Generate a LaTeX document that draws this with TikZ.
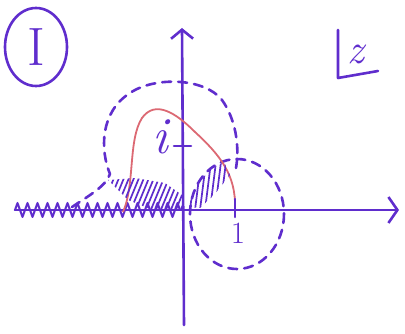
\documentclass[tikz,border=0pt]{standalone}
\usepackage{fontspec}
\usepackage{tikz}
\usetikzlibrary{arrows.meta,decorations.pathmorphing,shapes.geometric}
\definecolor{pen}{RGB}{95,45,205}
\definecolor{redpen}{RGB}{220,105,115}

\begin{document}
\begin{tikzpicture}[x=1pt,y=-1pt,
  pen/.style={draw=pen,line width=2.6pt,line cap=round,line join=round},
  dashpen/.style={pen,dash pattern=on 9pt off 7pt},
  hatchpen/.style={draw=pen,line width=1.7pt,line cap=round},
  every node/.style={text=pen,inner sep=0pt}]
  \useasboundingbox (0,0) rectangle (405,334);
  % axes
  \coordinate (xl) at (15,210);
  \coordinate (xr) at (399,210);
  \coordinate (yt) at (182,28);
  \coordinate (yb) at (184,325);
  \draw[pen,-{Straight Barb[length=9pt,width=26pt]}] (xl) -- (xr);
  \draw[pen,-{Straight Barb[length=9pt,width=22pt]}] (yb) -- (yt);
  % branch cut
  \draw[pen,line width=2pt,decorate,decoration={zigzag,segment length=10pt,amplitude=7pt}] (xl) -- (180,210);
  % dashed contours
  \draw[dashpen] (72,207) .. controls (90,195) and (106,186) .. (110,174)
    .. controls (100,150) and (100,112) .. (130,93)
    .. controls (155,76) and (205,78) .. (222,100)
    .. controls (235,118) and (240,145) .. (236,168);
  \draw[dashpen] (237,214) ellipse [x radius=47, y radius=55];
  % red curve
  \draw[draw=redpen,line width=1.8pt] (123,212) .. controls (135,185) and (128,140) .. (142,118)
    .. controls (155,100) and (175,112) .. (195,132)
    .. controls (220,155) and (236,175) .. (235,208);
  % hatching
  \begin{scope}
    \clip (108,180) -- (135,178) -- (165,183) -- (182,195) -- (182,209) -- (150,209) -- (128,200) -- cycle;
    \foreach \x in {95,100,...,190}{
      \draw[hatchpen] (\x,212) -- ++(14,-34);
    }
  \end{scope}
  \begin{scope}
    \clip (188,207) -- (196,185) -- (212,168) -- (224,162) -- (230,175) -- (214,195) -- (200,208) -- cycle;
    \foreach \x in {180,185,...,235}{
      \draw[hatchpen] (\x,210) -- ++(6,-48);
    }
  \end{scope}
  % ticks and labels
  \draw[pen] (174,146) -- (191,146);
  \draw[pen] (235,199) -- (235,217);
  \node[font=\fontsize{52}{52}\selectfont\itshape] (lbli) at (160,137) {i};
  \node[font=\fontsize{31}{31}\selectfont] (lblone) at (238,233) {1};
  \node[draw=pen,line width=2.6pt,ellipse,minimum width=62pt,minimum height=78pt,
    font=\fontsize{54}{54}\selectfont] (sheet) at (36,47) {I};
  \node[font=\fontsize{42}{42}\selectfont\itshape] (lblz) at (356,54) {z};
  \draw[pen] (338,30) -- (338,78) -- (378,71);
\end{tikzpicture}
\end{document}
